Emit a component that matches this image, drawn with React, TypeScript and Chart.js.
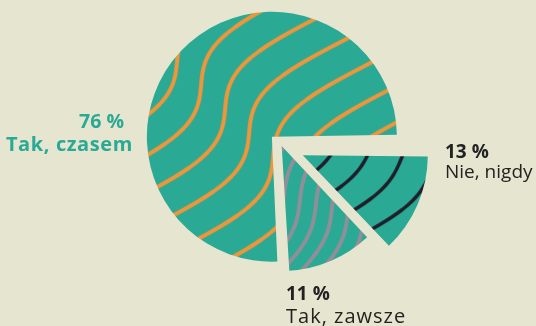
import React, { useEffect, useRef } from "react";
import { Chart, registerables } from "chart.js";

Chart.register(...registerables);

const categories = ["Tak, czasem", "Nie, nigdy", "Tak, zawsze"];
const values = [76, 13, 11];
const valueLabels = ["76 %", "13 %", "11 %"];

const BG = "#e5e5d0";
const TEAL = "#2aa994";
const RADIUS = 125;
// Chart.js translates an arc by offset/4
const OFFSETS = [54, 92, 0];
const W = 536;
const H = 326;

type Wave = {
  color: string;
  lw: number;
  x0: number;
  y0: number;
  slope: number;
  amp: number;
  period: number;
  tx: number;
  ty: number;
};

function makeTexture(w: Wave): CanvasPattern | string {
  const c = document.createElement("canvas");
  c.width = W;
  c.height = H;
  const g = c.getContext("2d");
  if (!g) return TEAL;
  g.fillStyle = TEAL;
  g.fillRect(0, 0, W, H);
  g.strokeStyle = w.color;
  g.lineWidth = w.lw;
  g.lineCap = "round";
  g.lineJoin = "round";
  for (let k = -40; k <= 40; k++) {
    g.beginPath();
    let first = true;
    for (let u = -600; u <= 900; u += 1) {
      const x =
        w.x0 - w.slope * (u - w.y0) + w.amp * Math.sin((2 * Math.PI * (u - w.y0)) / w.period) + k * w.tx;
      const y = u + k * w.ty;
      if (y < -20 || y > H + 20) continue;
      if (first) {
        g.moveTo(x, y);
        first = false;
      } else g.lineTo(x, y);
    }
    g.stroke();
  }
  return g.createPattern(c, "no-repeat") || TEAL;
}

const radiusFix = {
  id: "radiusFix",
  beforeDatasetsDraw(chart: any) {
    const meta = chart.getDatasetMeta(0);
    meta.data.forEach((arc: any, i: number) => {
      const off = (OFFSETS[i] || 0) / 4;
      const fix = 1 - Math.sin(Math.min(Math.PI, arc.circumference || 0));
      arc.outerRadius = RADIUS - off * fix;
    });
  },
};

const labelPlugin = {
  id: "sliceLabels",
  afterDraw(chart: any) {
    const ctx = chart.ctx as any;
    ctx.save();
    ctx.textBaseline = "alphabetic";
    const items = [
      { v: valueLabels[0], c: categories[0], x: 133, y1: 128, y2: 151, align: "right", color: TEAL, f1: '700 19.5px "Open Sans"', f2: '700 20px "Open Sans"', ls: "0.6px", dx1: -9 },
      { v: valueLabels[1], c: categories[1], x: 445, y1: 158, y2: 177.5, align: "left", color: "#222222", f1: '700 19px "Open Sans"', f2: '400 19px "Open Sans"', ls: "0px", dx1: 0 },
      { v: valueLabels[2], c: categories[2], x: 286, y1: 300, y2: 322.5, align: "left", color: "#222222", f1: '700 19px "Open Sans"', f2: '400 20px "Open Sans"', ls: "1px", dx1: 0 },
    ];
    for (const it of items) {
      ctx.fillStyle = it.color;
      ctx.textAlign = it.align;
      ctx.letterSpacing = "0px";
      ctx.font = it.f1;
      ctx.fillText(it.v, it.x + it.dx1, it.y1);
      ctx.font = it.f2;
      ctx.letterSpacing = it.ls;
      ctx.fillText(it.c, it.x, it.y2);
    }
    ctx.restore();
  },
};

export default function App() {
  const ref = useRef<HTMLCanvasElement | null>(null);
  useEffect(() => {
    if (!ref.current) return;
    const orange = makeTexture({ color: "#f0963a", lw: 4, x0: 187, y0: 70, slope: 1, amp: 26, period: 180, tx: 24, ty: 24 });
    const dark = makeTexture({ color: "#1f1f2b", lw: 3.5, x0: 380, y0: 150, slope: 1.1, amp: 14, period: 130, tx: 30, ty: 12 });
    const gray = makeTexture({ color: "#8f8f99", lw: 4, x0: 300, y0: 200, slope: 0.5, amp: 8, period: 130, tx: 16, ty: 4 });
    const chart = new Chart(ref.current, {
      type: "pie",
      data: {
        labels: categories,
        datasets: [
          {
            data: values,
            backgroundColor: [orange, dark, gray] as any,
            borderWidth: 0,
            offset: OFFSETS,
            hoverOffset: 0,
          },
        ],
      },
      options: {
        animation: false,
        responsive: true,
        maintainAspectRatio: false,
        rotation: 176.5,
        radius: RADIUS,
        layout: { padding: { left: 27.4, right: 0, top: 0, bottom: 34 } },
        plugins: {
          legend: { display: false },
          tooltip: { enabled: false },
        },
        events: [],
      } as any,
      plugins: [radiusFix, labelPlugin],
    });
    return () => chart.destroy();
  }, []);
  return (
    <div
      style={{
        position: "absolute",
        left: 0,
        top: 0,
        width: W,
        height: H,
        background: BG,
      }}
    >
      <canvas ref={ref} width={W} height={H} />
    </div>
  );
}
